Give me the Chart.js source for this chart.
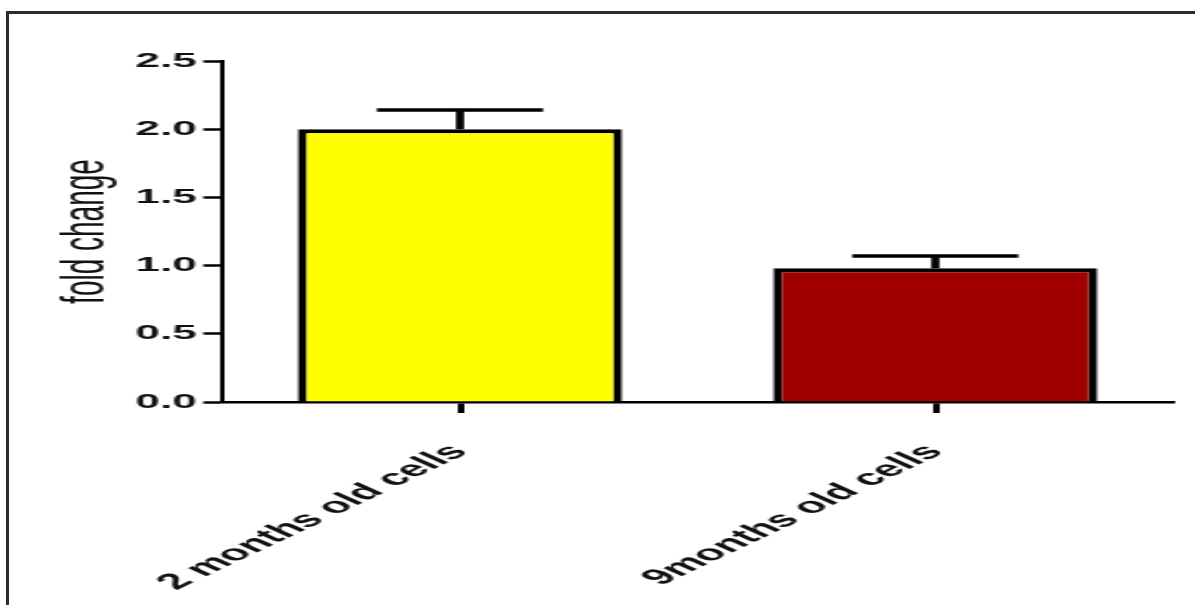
<!DOCTYPE html>
<html>
<head>
<meta charset="utf-8">
<script src="https://cdn.jsdelivr.net/npm/chart.js@4.4.1/dist/chart.umd.min.js"></script>
<style>
  html, body { margin: 0; padding: 0; background: #ffffff; }
  body { width: 1195px; height: 605px; position: relative; overflow: hidden; }
  #frame {
    position: absolute; left: 6px; top: 11px; width: 1200px; height: 610px;
    border-top: 3px solid #2b2b2b; border-left: 3px solid #2b2b2b;
    box-sizing: border-box;
  }
  /* the figure is laid out narrow and widened horizontally */
  #stretch {
    position: absolute; left: 0; top: 0; width: 543px; height: 605px;
    transform: scaleX(2.2007); transform-origin: 0 0;
  }
</style>
</head>
<body>
<div id="frame"></div>
<div id="stretch"><canvas id="chart" width="543" height="605"></canvas></div>
<script>
// Fold change by cell age, mean with error bar
const categories = ['2 months old cells', '9months old cells'];
const foldChange = [2.0, 0.98];
const errorUp = [0.14, 0.09];
const barColors = ['#FFFF00', '#A00000'];
const yTickValues = [0, 0.5, 1.0, 1.5, 2.0, 2.5];

const errorBars = {
  id: 'errorBars',
  afterDatasetsDraw(chart) {
    const meta = chart.getDatasetMeta(0);
    const yScale = chart.scales.y;
    const ctx = chart.ctx;
    ctx.save();
    ctx.strokeStyle = '#000000';
    ctx.lineCap = 'butt';
    meta.data.forEach((bar, i) => {
      const top = yScale.getPixelForValue(foldChange[i] + errorUp[i]);
      const half = bar.width * 0.256;
      ctx.lineWidth = 3.7;
      ctx.beginPath();
      ctx.moveTo(bar.x, bar.y);
      ctx.lineTo(bar.x, top);
      ctx.stroke();
      ctx.lineWidth = 3.5;
      ctx.beginPath();
      ctx.moveTo(bar.x - half, top);
      ctx.lineTo(bar.x + half, top);
      ctx.stroke();
    });
    ctx.restore();
  }
};

new Chart(document.getElementById('chart'), {
  type: 'bar',
  data: {
    labels: categories,
    datasets: [{
      data: foldChange,
      backgroundColor: barColors,
      borderColor: '#000000',
      borderWidth: 4,
      borderSkipped: 'start',
      barPercentage: 0.682,
      categoryPercentage: 1.0
    }]
  },
  options: {
    responsive: false,
    animation: false,
    layout: { padding: { top: 61, right: 10, bottom: 0, left: 0 } },
    plugins: { legend: { display: false }, tooltip: { enabled: false } },
    scales: {
      x: {
        offset: true,
        grid: { display: true, drawOnChartArea: false, offset: false, tickLength: 11, tickWidth: 3, color: '#000000' },
        border: { display: true, width: 2.5, color: '#000000' },
        ticks: {
          color: '#111111', maxRotation: 46, minRotation: 46, padding: 26,
          font: { family: '"Liberation Sans", Arial, sans-serif', size: 22, weight: 'bold' }
        },
        afterFit(scale) { scale.height = 203; }
      },
      y: {
        min: 0, max: 2.5,
        afterBuildTicks(scale) { scale.ticks = yTickValues.map(v => ({ value: v })); },
        grid: { display: true, drawOnChartArea: false, tickLength: 8.6, tickWidth: 2.5, color: '#000000' },
        border: { display: true, width: 2, color: '#000000' },
        ticks: {
          color: '#111111', padding: 3,
          font: { family: '"Liberation Sans", Arial, sans-serif', size: 20, weight: 'bold' },
          callback: v => Number(v).toFixed(1)
        },
        title: {
          display: true, text: 'fold change', color: '#111111',
          padding: { top: 22, bottom: 0 },
          font: { family: '"Liberation Sans", Arial, sans-serif', size: 28, weight: 'normal' }
        },
        afterFit(scale) { scale.width = 101; }
      }
    }
  },
  plugins: [errorBars]
});
</script>
</body>
</html>
